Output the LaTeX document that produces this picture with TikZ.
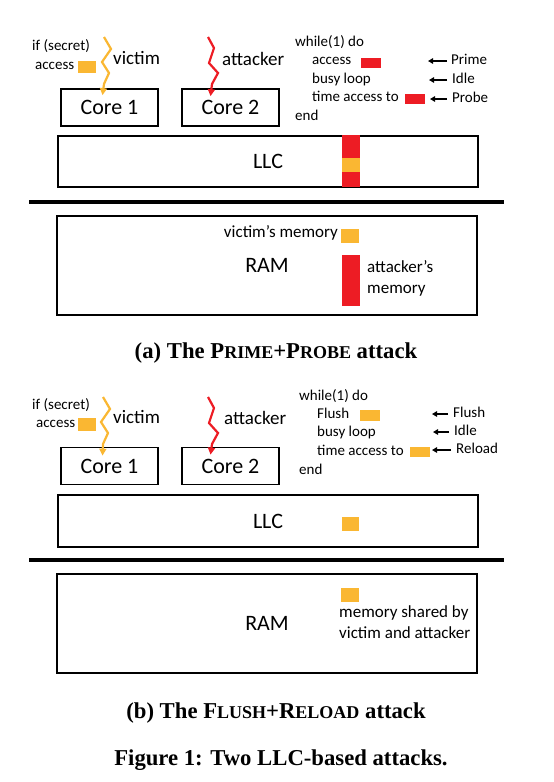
\documentclass[tikz,border=0pt]{standalone}
\usepackage{fontspec}
\setmainfont{Carlito}
\newfontfamily\capfont{Liberation Serif}
\usetikzlibrary{arrows.meta}
\definecolor{hotred}{RGB}{237,28,36}
\definecolor{warmorange}{RGB}{250,183,50}
\newcommand\smcap[1]{{\fontsize{18}{19}\selectfont #1}}
\tikzset{
  box/.style={draw, line width=1.7pt, inner sep=0pt},
  big/.style={font=\fontsize{22}{24}\selectfont},
  who/.style={font=\fontsize{19}{21}\selectfont, anchor=west, inner sep=0pt},
  code/.style={font=\fontsize{15}{17}\selectfont, anchor=west, inner sep=0pt, text height=10.5pt, text depth=3pt},
  mem/.style={font=\fontsize{17}{19}\selectfont, inner sep=0pt, text height=12pt, text depth=3.5pt},
  bolt/.style={line width=2.2pt, -{Triangle[length=7pt,width=7pt]}},
  pointer/.style={line width=1.5pt, -{Triangle[length=5pt,width=5.5pt]}},
  divider/.style={line width=4pt},
  caption/.style={font=\capfont\bfseries\fontsize{22.7}{26}\selectfont, inner sep=0pt},
}
\begin{document}
\begin{tikzpicture}[x=1pt,y=-1pt]
    \useasboundingbox[fill=white] (0,0) rectangle (554,782);

    % (a) prime+probe
    \node[code] (ifA) at (32,47) {if (secret)};
    \node[code] (accA) at (35,66) {access};
    \fill[warmorange] (78,61) rectangle (96,73);
    \node[box,big,minimum width=97pt,minimum height=37pt] (coreA1) at (109.5,107.5) {Core 1};
    \node[box,big,minimum width=97pt,minimum height=37pt] (coreA2) at (230.5,107.5) {Core 2};
    \node[who] (vicA) at (113,58) {victim};
    \node[who] (attA) at (222,59) {attacker};
    \coordinate (vicAtop) at (104,37);
    \coordinate (attAtop) at (208,37);
    \draw[bolt,warmorange] (vicAtop) -- ++(7,12) -- ++(-9,13) -- ++(7,11) -- ++(-5,11)
        -- ([xshift=-7pt,yshift=-7pt]coreA1.north);
    \draw[bolt,hotred] (attAtop) -- ++(6,11) -- ++(-5,15) -- ++(9,10) -- ++(-6,11)
        -- ([xshift=-20pt,yshift=-8pt]coreA2.north);

    \node[code] (whileA) at (295,43) {while(1) do};
    \node[code] (accessA) at (312,61) {access};
    \fill[hotred] (361,58) rectangle (381,68);
    \node[code] (busyA) at (312,80) {busy loop};
    \node[code] (timeA) at (312,98) {time access to};
    \fill[hotred] (405,94) rectangle (425,104);
    \node[code] (endA) at (295,117) {end};
    \node[code] (prime) at (451,61) {Prime};
    \node[code] (idleA) at (452,80) {Idle};
    \node[code] (probe) at (452,99) {Probe};
    \draw[pointer] ([xshift=-4pt]prime.west) -- ++(-19,0);
    \draw[pointer] ([xshift=-5pt]idleA.west) -- ++(-18,0);
    \draw[pointer] ([xshift=-5pt]probe.west) -- ++(-17,0);

    \node[box,big,minimum width=420pt,minimum height=51pt] (llcA) at (268,161.5) {LLC};
    \fill[hotred] (342,135) rectangle (360,158);
    \fill[warmorange] (342,158) rectangle (360,172);
    \fill[hotred] (342,172) rectangle (360,187);
    \draw[divider] (29,202) -- (504,202);
    \node[box,big,minimum width=420pt,minimum height=99pt] (ramA) at (267,265.5) {RAM};
    \node[mem,anchor=east] (vmemA) at (338,233) {victim’s memory};
    \fill[warmorange] (341,229) rectangle (359,243);
    \fill[hotred] (342,255) rectangle (360,306);
    \node[mem,anchor=west] (amemA) at (367,268) {attacker’s};
    \node[mem,anchor=west] (amemA2) at (367,289) {memory};
    \node[caption] (capA) at (276,353) {(a) The P\smcap{RIME}+P\smcap{ROBE} attack};

    % (b) flush+reload
    \node[code] (ifB) at (32,406) {if (secret)};
    \node[code] (accB) at (36,424) {access};
    \fill[warmorange] (78,418) rectangle (96,431);
    \node[box,big,minimum width=97pt,minimum height=37pt] (coreB1) at (109.5,466) {Core 1};
    \node[box,big,minimum width=97pt,minimum height=37pt] (coreB2) at (230.5,466) {Core 2};
    \node[who] (vicB) at (113,417) {victim};
    \node[who] (attB) at (224,418) {attacker};
    \coordinate (vicBtop) at (103,397);
    \coordinate (attBtop) at (208,397);
    \draw[bolt,warmorange] (vicBtop) -- ++(7,12) -- ++(-9,13) -- ++(7,11) -- ++(-5,11)
        -- ([xshift=-7pt,yshift=-9pt]coreB1.north);
    \draw[bolt,hotred] (attBtop) -- ++(6,11) -- ++(-5,15) -- ++(9,10) -- ++(-6,11)
        -- ([xshift=-20pt,yshift=-8pt]coreB2.north);

    \node[code] (whileB) at (299,397) {while(1) do};
    \node[code] (flushB) at (317,415) {Flush};
    \fill[warmorange] (360,410) rectangle (380,421);
    \node[code] (busyB) at (317,433) {busy loop};
    \node[code] (timeB) at (317,452) {time access to};
    \fill[warmorange] (410,447) rectangle (430,457);
    \node[code] (endB) at (299,471) {end};
    \node[code] (flush) at (453,414) {Flush};
    \node[code] (idleB) at (454,432) {Idle};
    \node[code] (reload) at (456,450) {Reload};
    \draw[pointer] ([xshift=-5pt]flush.west) -- ++(-16,0);
    \draw[pointer] ([xshift=-5pt]idleB.west) -- ++(-16,0);
    \draw[pointer] ([xshift=-5pt]reload.west) -- ++(-19,0);

    \node[box,big,minimum width=420pt,minimum height=52pt] (llcB) at (268,521) {LLC};
    \fill[warmorange] (342,517) rectangle (359,531);
    \draw[divider] (29,560) -- (504,560);
    \node[box,big,minimum width=420pt,minimum height=99pt] (ramB) at (267,623.5) {RAM};
    \fill[warmorange] (341,588) rectangle (359,602);
    \node[mem,anchor=west] (shmemB) at (339,613) {memory shared by};
    \node[mem,anchor=west] (shmemB2) at (339,634) {victim and attacker};
    \node[caption] (capB) at (276,713) {(b) The F\smcap{LUSH}+R\smcap{ELOAD} attack};

    \node[caption] (figcap) at (281,760) {Figure 1: Two LLC-based attacks.};
\end{tikzpicture}
\end{document}
